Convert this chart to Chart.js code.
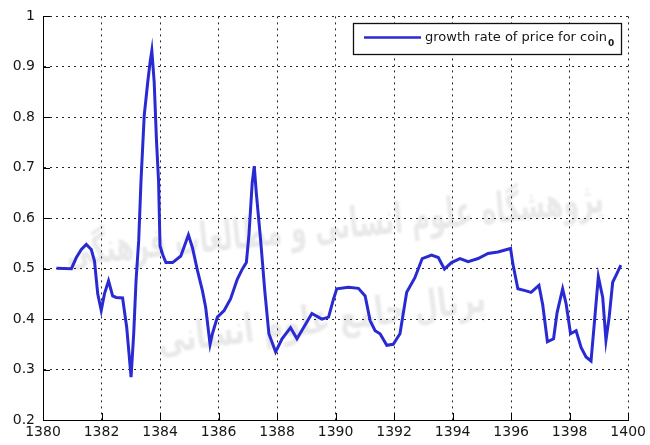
<!DOCTYPE html>
<html>
<head>
<meta charset="utf-8">
<script src="https://cdn.jsdelivr.net/npm/chart.js@4"></script>
<style>
  html, body { margin: 0; padding: 0; background: #fff; }
  #wrap { width: 650px; height: 445px; }
</style>
</head>
<body>
<div id="wrap"><canvas id="c" width="650" height="445"></canvas></div>
<script>
// Year (solar calendar) and growth rate of the coin price
const years = [
  1380.46, 1380.97, 1381.14, 1381.31, 1381.48, 1381.65, 1381.76, 1381.87, 1381.99,
  1382.10, 1382.24, 1382.38, 1382.50, 1382.72, 1382.78, 1382.86, 1382.93,
  1383.01, 1383.10, 1383.18, 1383.27, 1383.35, 1383.46, 1383.58, 1383.66, 1383.72,
  1383.80, 1383.88, 1383.95, 1384.00, 1384.09, 1384.20, 1384.43, 1384.71, 1384.97,
  1385.11, 1385.28, 1385.45, 1385.56, 1385.71, 1385.79, 1385.96, 1386.19, 1386.41,
  1386.64, 1386.81, 1386.95, 1387.04, 1387.15, 1387.22, 1387.29, 1387.44, 1387.58,
  1387.72, 1387.95, 1388.17, 1388.46, 1388.68, 1389.19, 1389.53, 1389.76, 1389.93,
  1390.04, 1390.44, 1390.78, 1391.01, 1391.18, 1391.35, 1391.52, 1391.75, 1391.97,
  1392.20, 1392.43, 1392.71, 1392.96, 1393.28, 1393.51, 1393.72, 1393.96, 1394.25,
  1394.53, 1394.87, 1395.21, 1395.55, 1395.98, 1396.06, 1396.23, 1396.51, 1396.68,
  1396.95, 1397.08, 1397.24, 1397.45, 1397.57, 1397.76, 1397.88, 1398.03, 1398.22,
  1398.39, 1398.56, 1398.73, 1398.84, 1398.98, 1399.13, 1399.24, 1399.35, 1399.47,
  1399.58, 1399.75
];
const growthRate = [
  0.501, 0.500, 0.522, 0.538, 0.548, 0.538, 0.515, 0.450, 0.417,
  0.450, 0.476, 0.446, 0.443, 0.442, 0.417, 0.384, 0.338,
  0.285, 0.371, 0.476, 0.555, 0.675, 0.804, 0.870, 0.909, 0.932,
  0.870, 0.752, 0.673, 0.545, 0.528, 0.512, 0.512, 0.525, 0.567,
  0.541, 0.496, 0.456, 0.423, 0.350, 0.371, 0.404, 0.417, 0.440,
  0.479, 0.499, 0.512, 0.568, 0.670, 0.703, 0.650, 0.555, 0.456,
  0.371, 0.335, 0.361, 0.383, 0.361, 0.411, 0.400, 0.404, 0.440,
  0.460, 0.463, 0.461, 0.446, 0.397, 0.377, 0.371, 0.348, 0.350,
  0.371, 0.453, 0.482, 0.520, 0.527, 0.522, 0.499, 0.512, 0.520,
  0.514, 0.520, 0.530, 0.533, 0.540, 0.509, 0.460, 0.456, 0.453,
  0.467, 0.428, 0.355, 0.361, 0.413, 0.460, 0.430, 0.371, 0.377,
  0.344, 0.325, 0.317, 0.390, 0.484, 0.443, 0.358, 0.404, 0.473,
  0.486, 0.507
];

// Axis ranges and tick spacing
const xRange = [1380, 1400];
const xStep = 2;
const yRange = [0.2, 1];
const yStep = 0.1;

// Legend text (name + subscript)
const legendLabel = 'growth rate of price for coin';
const legendSub = '0';

// Faint background watermark lines
const watermarkLines = ['پژوهشگاه علوم انسانی و مطالعات فرهنگی', 'پرتال جامع علوم انسانی'];

const FONT = "'DejaVu Sans', 'Liberation Sans', sans-serif";
const LINE_COLOR = '#2a2ad2';
const GRID_COLOR = '#262626';

Chart.defaults.font.family = FONT;
Chart.defaults.font.size = 14;
Chart.defaults.color = '#161616';

// Light watermark behind the grid
const watermark = {
  id: 'watermark',
  beforeDraw(chart) {
    const { ctx } = chart;
    ctx.save();
    ctx.filter = 'blur(1.2px)';
    ctx.fillStyle = 'rgba(110,110,110,0.15)';
    ctx.textAlign = 'center';
    ctx.textBaseline = 'middle';
    ctx.direction = 'rtl';

    ctx.save();
    ctx.translate(335, 228);
    ctx.rotate(-0.1);
    ctx.font = `bold 42px ${FONT}`;
    ctx.fillText(watermarkLines[0], 0, 0, 540);
    ctx.restore();

    ctx.save();
    ctx.translate(322, 322);
    ctx.rotate(-0.13);
    ctx.font = `bold 40px ${FONT}`;
    ctx.fillText(watermarkLines[1], 0, 0, 330);
    ctx.restore();

    ctx.restore();
  }
};

// Short tick marks pointing into the plot area
const inwardTicks = {
  id: 'inwardTicks',
  beforeDatasetsDraw(chart) {
    const { ctx, chartArea: a, scales: { x, y } } = chart;
    const len = 7;
    ctx.save();
    ctx.strokeStyle = '#000';
    ctx.lineWidth = 1;
    ctx.beginPath();
    x.ticks.forEach(t => {
      const px = Math.round(x.getPixelForValue(t.value)) + 0.5;
      ctx.moveTo(px, a.bottom);
      ctx.lineTo(px, a.bottom - len);
    });
    y.ticks.forEach(t => {
      const py = Math.round(y.getPixelForValue(t.value)) + 0.5;
      ctx.moveTo(a.left, py);
      ctx.lineTo(a.left + len, py);
    });
    ctx.stroke();
    ctx.restore();
  }
};

// Boxed legend in the upper-right corner of the plot
const boxedLegend = {
  id: 'boxedLegend',
  afterDraw(chart) {
    const { ctx, chartArea: a } = chart;
    const ds = chart.data.datasets[0];
    ctx.save();
    ctx.font = `13px ${FONT}`;
    const textW = ctx.measureText(legendLabel).width;
    ctx.font = `bold 9px ${FONT}`;
    const subW = ctx.measureText(legendSub).width;

    const padL = 11, lineLen = 57, gap = 4, padR = 7;
    const w = padL + lineLen + gap + textW + subW + 1 + padR;
    const h = 31;
    const right = Math.round(a.right) - 7;
    const left = Math.round(right - w);
    const top = Math.round(a.top) + 7;

    ctx.fillStyle = '#fff';
    ctx.fillRect(left, top, right - left, h);
    ctx.strokeStyle = '#111';
    ctx.lineWidth = 1.3;
    ctx.strokeRect(left + 0.5, top + 0.5, right - left, h);

    const cy = top + 14.5;
    ctx.strokeStyle = ds.borderColor;
    ctx.lineWidth = 2.5;
    ctx.beginPath();
    ctx.moveTo(left + padL, cy);
    ctx.lineTo(left + padL + lineLen, cy);
    ctx.stroke();

    ctx.fillStyle = '#161616';
    ctx.textBaseline = 'middle';
    ctx.textAlign = 'left';
    const tx = left + padL + lineLen + gap;
    ctx.font = `13px ${FONT}`;
    ctx.fillText(legendLabel, tx, cy);
    ctx.font = `bold 9px ${FONT}`;
    ctx.fillText(legendSub, tx + textW + 1, cy + 6);
    ctx.restore();
  }
};

new Chart(document.getElementById('c'), {
  type: 'line',
  data: {
    datasets: [{
      label: legendLabel + legendSub,
      data: years.map((yr, i) => ({ x: yr, y: growthRate[i] })),
      borderColor: LINE_COLOR,
      backgroundColor: LINE_COLOR,
      borderWidth: 3,
      tension: 0,
      pointRadius: 0,
      fill: false
    }]
  },
  options: {
    responsive: false,
    animation: false,
    devicePixelRatio: 1,
    layout: { padding: { top: 14, right: 19, left: 0, bottom: 0 } },
    plugins: {
      legend: { display: false },
      tooltip: { enabled: false }
    },
    scales: {
      x: {
        type: 'linear',
        min: xRange[0],
        max: xRange[1],
        afterFit: s => { s.height = 25; },
        ticks: {
          stepSize: xStep,
          padding: 4,
          maxRotation: 0,
          callback: v => String(v)
        },
        grid: { color: GRID_COLOR, lineWidth: 1, drawTicks: false },
        border: { display: true, color: '#000', width: 1, dash: [2, 4] }
      },
      y: {
        min: yRange[0],
        max: yRange[1],
        afterFit: s => { s.width = 43; },
        ticks: {
          stepSize: yStep,
          padding: 8,
          callback: v => String(Number(v.toFixed(1)))
        },
        grid: { color: GRID_COLOR, lineWidth: 1, drawTicks: false },
        border: { display: true, color: '#000', width: 1, dash: [2, 4] }
      }
    }
  },
  plugins: [watermark, inwardTicks, boxedLegend]
});
</script>
</body>
</html>
